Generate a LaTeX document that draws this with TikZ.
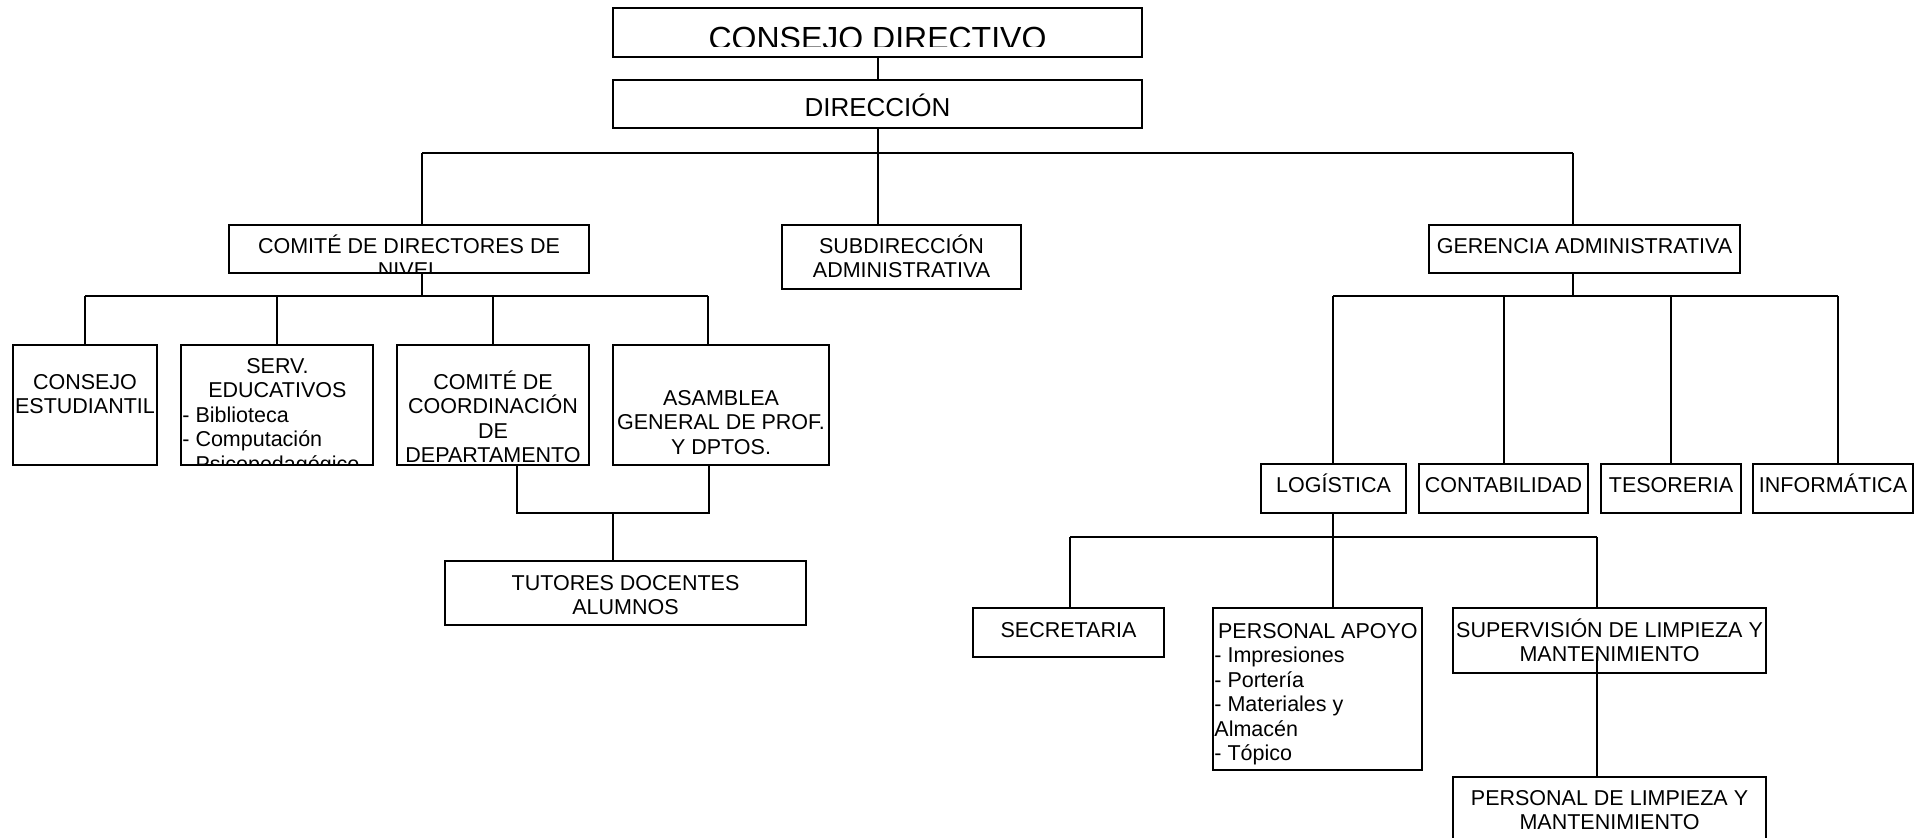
\documentclass[tikz,border=0pt]{standalone}
\usepackage{fontspec}
\setmainfont{Liberation Sans}
\usetikzlibrary{fit}
\newcommand\fa{\fontsize{10.75}{12.25}\selectfont}
\newcommand\fl{\rule{0pt}{10pt}}
\newcommand\obox[5]{\coordinate (#1-a) at (#2,#3); \coordinate (#1-b) at (#4,#5); \node[orgbox, fit=(#1-a)(#1-b)] (#1) {};}
\begin{document}
\begin{tikzpicture}[x=0.5pt,y=-0.5pt,
  orgbox/.style={draw=black, line width=1pt, inner sep=0pt},
  lbl/.style={font=\fa, inner sep=0pt, align=center},
  lst/.style={font=\fa, inner sep=0pt, align=left, anchor=north west},
  conn/.style={draw=black, line width=1pt}
]
\clip (0,0) rectangle (1925,838);
\fill[white] (0,0) rectangle (1925,838);

% boxes
\obox{cd}{613}{8}{1142}{57}
\obox{dir}{613}{80}{1142}{128}
\obox{cdn}{229}{225}{589}{273}
\obox{sub}{782}{225}{1021}{289}
\obox{ger}{1429}{225}{1740}{273}
\obox{ce}{13}{345}{157}{465}
\obox{se}{181}{345}{373}{465}
\obox{cc}{397}{345}{589}{465}
\obox{asa}{613}{345}{829}{465}
\obox{tut}{445}{561}{806}{625}
\obox{log}{1261}{464}{1406}{513}
\obox{cont}{1419}{464}{1588}{513}
\obox{tes}{1601}{464}{1741}{513}
\obox{inf}{1753}{464}{1913}{513}
\obox{sec}{973}{608}{1164}{657}
\obox{apo}{1213}{608}{1422}{770}
\obox{sup}{1453}{608}{1766}{673}
\obox{lim}{1453}{777}{1766}{870}

% texts
\begin{scope}
\clip (613,8) rectangle (1142,47);
\node[lbl, font=\fontsize{16}{19}\selectfont, anchor=base] (cd-t) at (877.5,50) {CONSEJO DIRECTIVO};
\end{scope}
\node[lbl, font=\fontsize{13}{15}\selectfont, anchor=base] (dir-t) at (877.5,117) {DIRECCIÓN};
\begin{scope}
\clip (cdn-a) rectangle (cdn-b);
\node[lbl, anchor=north] (cdn-t) at (409,233) {\fl COMITÉ DE DIRECTORES DE\\NIVEL};
\end{scope}
\node[lbl, anchor=north] (sub-t) at (901.5,233) {\fl SUBDIRECCIÓN\\ADMINISTRATIVA};
\node[lbl, anchor=base] (ger-t) at (1584.5,254) {GERENCIA ADMINISTRATIVA};
\node[lbl, anchor=north] (ce-t) at (85,369) {\fl CONSEJO\\ESTUDIANTIL};
\begin{scope}
\clip (se-a) rectangle (se-b);
\node[lst] (se-t) at (182,353) {\fl\makebox[95pt][c]{SERV.}\\\makebox[95pt][c]{EDUCATIVOS}\\- Biblioteca\\- Computación\\- Psicopedagógico};
\end{scope}
\begin{scope}
\clip (cc-a) rectangle (cc-b);
\node[lbl, anchor=north] (cc-t) at (493,369) {\fl COMITÉ DE\\COORDINACIÓN\\DE\\DEPARTAMENTO};
\end{scope}
\node[lbl, anchor=north] (asa-t) at (721,385) {\fl ASAMBLEA\\GENERAL DE PROF.\\Y DPTOS.};
\node[lbl, anchor=north] (tut-t) at (625.5,570) {\fl TUTORES DOCENTES\\ALUMNOS};
\node[lbl, anchor=base] (log-t) at (1333.5,493) {LOGÍSTICA};
\node[lbl, anchor=base] (cont-t) at (1503.5,493) {CONTABILIDAD};
\node[lbl, anchor=base] (tes-t) at (1671,493) {TESORERIA};
\node[lbl, anchor=base] (inf-t) at (1833,493) {INFORMÁTICA};
\node[lbl, anchor=base] (sec-t) at (1068.5,637) {SECRETARIA};
\node[lst] (apo-t) at (1214,618) {\fl\makebox[103.5pt][c]{PERSONAL APOYO}\\- Impresiones\\- Portería\\- Materiales y\\Almacén\\- Tópico};
\node[lbl, anchor=north] (sup-t) at (1609.5,617) {\fl SUPERVISIÓN DE LIMPIEZA Y\\MANTENIMIENTO};
\node[lbl, anchor=north] (lim-t) at (1609.5,785) {\fl PERSONAL DE LIMPIEZA Y\\MANTENIMIENTO};

% connector junctions
\coordinate (jA) at (422,153);
\coordinate (jB) at (1573,153);
\coordinate (jC) at (85,296);
\coordinate (jD) at (708,296);
\coordinate (jE) at (517,513);
\coordinate (jF) at (709,513);
\coordinate (jG) at (613,513);
\coordinate (jH) at (1333,296);
\coordinate (jI) at (1838,296);
\coordinate (jJ) at (1070,537);
\coordinate (jK) at (1597,537);
\coordinate (jL) at (1597,653);

% connectors
\draw[conn] (cd.south) -- (dir.north);
\draw[conn] (dir.south) -- (dir.south |- jA);
\draw[conn] (jA) -- (jB);
\draw[conn] (jA) -- (jA |- cdn.north);
\draw[conn] (dir.south |- jA) -- (dir.south |- sub.north);
\draw[conn] (jB) -- (jB |- ger.north);

\draw[conn] (jA |- cdn.south) -- (jA |- jC);
\draw[conn] (jC) -- (jD);
\draw[conn] (jC) -- (jC |- ce.north);
\draw[conn] (se.north |- jC) -- (se.north);
\draw[conn] (cc.north |- jC) -- (cc.north);
\draw[conn] (jD) -- (jD |- asa.north);

\draw[conn] (jE |- cc.south) -- (jE) -- (jF) -- (jF |- asa.south);
\draw[conn] (jG) -- (jG |- tut.north);

\draw[conn] (jB |- ger.south) -- (jB |- jH);
\draw[conn] (jH) -- (jI);
\draw[conn] (jH) -- (jH |- log.north);
\draw[conn] (cont.north |- jH) -- (cont.north);
\draw[conn] (tes.north |- jH) -- (tes.north);
\draw[conn] (jI) -- (jI |- inf.north);

\draw[conn] (jH |- log.south) -- (jH |- jJ);
\draw[conn] (jJ) -- (jK);
\draw[conn] (jJ) -- (jJ |- sec.north);
\draw[conn] (jH |- jJ) -- (jH |- apo.north);
\draw[conn] (jK) -- (jK |- sup.north);
\draw[conn] (jL) -- (jL |- lim.north);
\end{tikzpicture}
\end{document}
